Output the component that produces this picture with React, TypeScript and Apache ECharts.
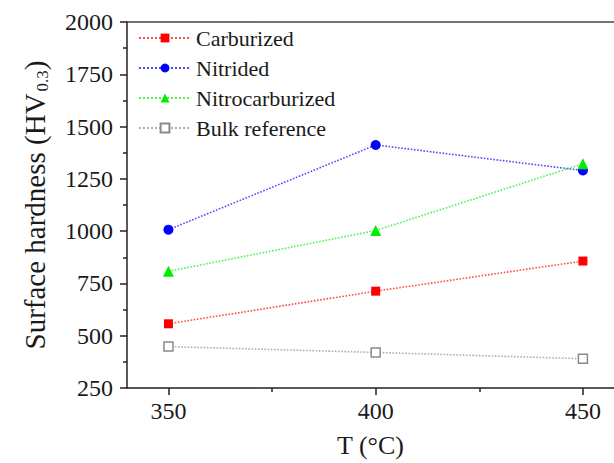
import React, { useEffect, useRef } from "react";
import * as echarts from "echarts";

const temperatures = [350, 400, 450];
const carburized = [557, 713, 857];
const nitrided = [1007, 1412, 1290];
const nitrocarburized = [808, 1003, 1322];
const bulkReference = [448, 420, 390];
const yTicks = [250, 500, 750, 1000, 1250, 1500, 1750, 2000];
const xMajor = [350, 400, 450];
const xMinor = [375, 425];
const seriesNames = ["Carburized", "Nitrided", "Nitrocarburized", "Bulk reference"];

const FONT = "Liberation Serif";
const TXT = "#1a1a1a";

function pairs(vals: number[]) {
  return temperatures.map((t, i) => [t, vals[i]]);
}

export default function App() {
  const ref = useRef<HTMLDivElement>(null);
  useEffect(() => {
    document.body.style.margin = "0";
    const chart = echarts.init(ref.current!, null, { renderer: "svg" });
    const axisColor = "#222";
    const lineSeries = (name: string, data: number[], color: string, symbol: string, size: number, hollow = false) => ({
      name,
      type: "line",
      data: pairs(data),
      symbol,
      symbolSize: size,
      showSymbol: true,
      lineStyle: { type: "dotted", width: 1.6, color, opacity: 0.7 },
      itemStyle: hollow
        ? { color: "#fff", borderColor: color, borderWidth: 1.5 }
        : { color, borderWidth: 0 },
      z: 3,
    });
    chart.setOption({
      animation: false,
      backgroundColor: "#fff",
      grid: { left: 127, right: 0, top: 22, bottom: 72, containLabel: false },
      legend: {
        orient: "vertical",
        left: 133,
        top: 22,
        itemWidth: 52,
        itemHeight: 11,
        itemGap: 8,
        textStyle: { fontFamily: FONT, fontSize: 22, color: TXT },
        data: seriesNames,
      },
      xAxis: [
        {
          type: "value",
          min: 340,
          max: 457.5,
          position: "bottom",
          axisLine: { show: true, lineStyle: { color: axisColor, width: 1.5 } },
          axisTick: { show: true, inside: false, length: 7, customValues: xMajor, lineStyle: { color: axisColor, width: 1.5 } },
          axisLabel: { customValues: xMajor, margin: 11, fontFamily: FONT, fontSize: 24, color: TXT },
          splitLine: { show: false },
          name: "T (°C)",
          nameLocation: "middle",
          nameGap: 44,
          nameTextStyle: { fontFamily: FONT, fontSize: 26, color: TXT },
        },
        {
          type: "value",
          min: 340,
          max: 457.5,
          position: "bottom",
          axisLine: { show: false },
          axisTick: { show: true, length: 4, customValues: xMinor, lineStyle: { color: axisColor, width: 1.5 } },
          axisLabel: { show: false },
          splitLine: { show: false },
        },
        {
          type: "value",
          min: 340,
          max: 457.5,
          position: "top",
          axisLine: { show: true, lineStyle: { color: "#444", width: 1.5 } },
          axisTick: { show: false },
          axisLabel: { show: false },
          splitLine: { show: false },
        },
      ],
      yAxis: [
        {
          type: "value",
          min: 250,
          max: 2000,
          interval: 250,
          axisLine: { show: true, lineStyle: { color: axisColor, width: 1.5 } },
          axisTick: { show: true, length: 7, lineStyle: { color: axisColor, width: 1.5 } },
          minorTick: { show: true, splitNumber: 2, length: 4, lineStyle: { color: axisColor, width: 1.5 } },
          axisLabel: {
            margin: 14,
            fontFamily: FONT,
            fontSize: 24,
            color: TXT,
            formatter: (v: number) => (yTicks.includes(v) ? String(v) : ""),
          },
          splitLine: { show: false },
          name: "{a|Surface hardness (HV}{s|0.3}{a|)}",
          nameLocation: "middle",
          nameGap: 76,
          nameRotate: 90,
          nameTextStyle: {
            rich: {
              a: { fontFamily: FONT, fontSize: 29, color: TXT },
              s: { fontFamily: FONT, fontSize: 17, color: TXT, verticalAlign: "bottom", padding: [16, 0, 0, 2] },
            },
          },
        },
      ],
      series: [
        lineSeries(seriesNames[0], carburized, "#ff0000", "rect", 9),
        lineSeries(seriesNames[1], nitrided, "#0000ff", "circle", 10),
        lineSeries(seriesNames[2], nitrocarburized, "#00ee00", "triangle", 11),
        lineSeries(seriesNames[3], bulkReference, "#8a8a8a", "rect", 9, true),
      ],
    });
    return () => chart.dispose();
  }, []);
  return (
    <>
      <style>{`.hv-chart svg text { font-family: "Liberation Serif", serif !important; }`}</style>
      <div className="hv-chart" ref={ref} style={{ width: 614, height: 463 }} />
    </>
  );
}
